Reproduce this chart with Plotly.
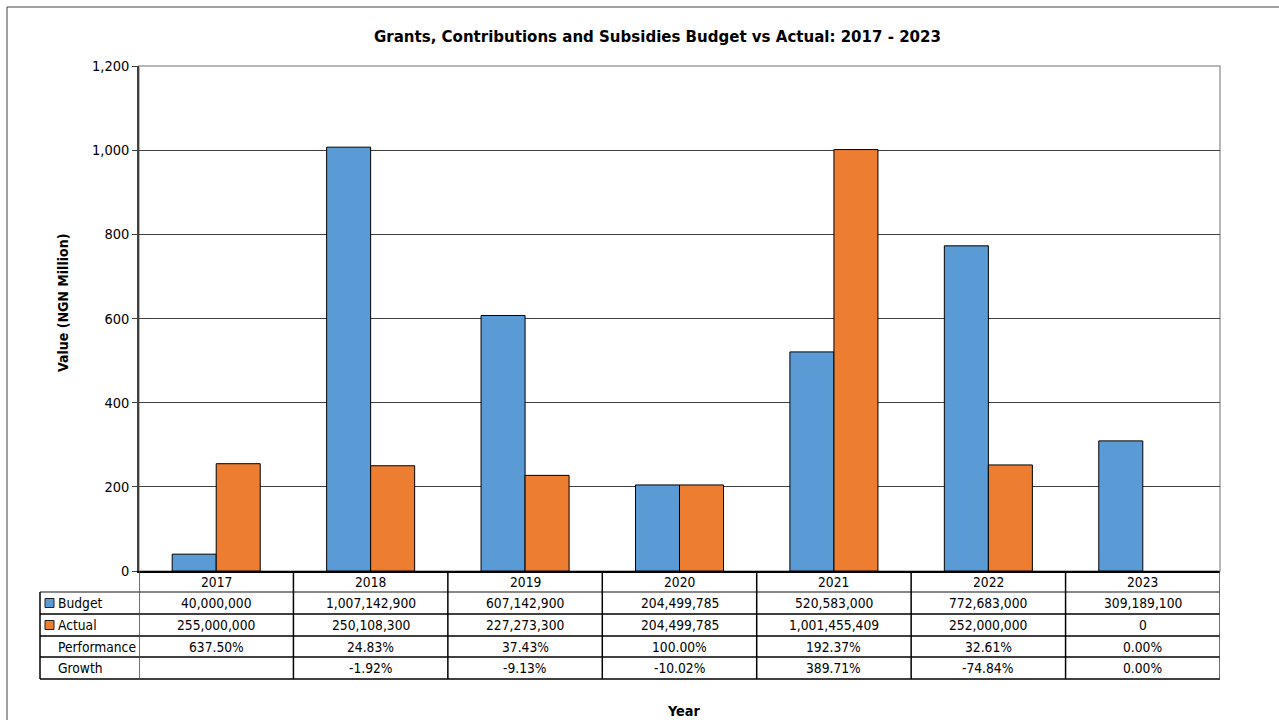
import plotly.graph_objects as go

# Annual figures (NGN Million)
years = ["2017", "2018", "2019", "2020", "2021", "2022", "2023"]
budget = [40.0, 1007.1429, 607.1429, 204.499785, 520.583, 772.683, 309.1891]
actual = [255.0, 250.1083, 227.2733, 204.499785, 1001.455409, 252.0, 0.0]

# Table rows shown below the chart
budget_labels = ["40,000,000", "1,007,142,900", "607,142,900", "204,499,785",
                 "520,583,000", "772,683,000", "309,189,100"]
actual_labels = ["255,000,000", "250,108,300", "227,273,300", "204,499,785",
                 "1,001,455,409", "252,000,000", "0"]
performance = ["637.50%", "24.83%", "37.43%", "100.00%", "192.37%", "32.61%", "0.00%"]
growth = ["", "-1.92%", "-9.13%", "-10.02%", "389.71%", "-74.84%", "0.00%"]

BLUE = "#5B9BD5"
ORANGE = "#ED7D31"
FONT = "DejaVu Sans Condensed, DejaVu Sans, sans-serif"

W, H = 1279, 720
L, R, T, B = 139, 1220, 66, 571  # plot area in pixels


def px(xp):
    return (xp - L) / (R - L)


def py(yp):
    return (B - yp) / (B - T)


def outline_widths(values):
    # zero-height bars get no outline
    return [1 if v else 0 for v in values]


fig = go.Figure()
fig.add_bar(x=years, y=budget, name="Budget",
            marker=dict(color=BLUE, line=dict(color="black", width=outline_widths(budget))))
fig.add_bar(x=years, y=actual, name="Actual",
            marker=dict(color=ORANGE, line=dict(color="black", width=outline_widths(actual))))

shapes = []
annos = []

# outer chart frame
shapes.append(dict(type="rect", xref="paper", yref="paper", x0=px(7), x1=px(1290),
                   y0=py(730), y1=py(7), line=dict(color="#404040", width=1)))
# plot-area frame (top/right)
shapes.append(dict(type="rect", xref="paper", yref="paper", x0=0, x1=1, y0=0, y1=1,
                   line=dict(color="#a0a0a0", width=1.5), layer="below"))

# table rows (pixel boundaries)
row_edges = [571, 592, 614, 636, 657, 679]
for i, ye in enumerate(row_edges[1:]):
    shapes.append(dict(type="line", xref="paper", yref="paper", x0=px(40), x1=1,
                       y0=py(ye), y1=py(ye), line=dict(color="black" if i else "#606060", width=1.5)))
# vertical separators
for k in range(len(years) + 1):
    shapes.append(dict(type="line", xref="x", yref="paper", x0=k - 0.5, x1=k - 0.5,
                       y0=0, y1=py(679), line=dict(color="black" if 0 < k < len(years) else "#404040", width=1.5)))
shapes.append(dict(type="line", xref="paper", yref="paper", x0=px(40), x1=px(40),
                   y0=py(592), y1=py(679), line=dict(color="black", width=1.5)))

# legend keys
for color, yc in [(BLUE, 603), (ORANGE, 625)]:
    shapes.append(dict(type="rect", xref="paper", yref="paper", x0=px(45), x1=px(54),
                       y0=py(yc + 4.5), y1=py(yc - 4.5), fillcolor=color,
                       line=dict(color="#202020", width=1)))

cell_font = dict(family=FONT, size=13.7, color="black")
row_centers = [603, 625, 646.5, 668]
row_names = ["Budget", "Actual", "Performance", "Growth"]
row_values = [budget_labels, actual_labels, performance, growth]

for i, yr in enumerate(years):
    annos.append(dict(x=i, y=py(581.5), xref="x", yref="paper", text=yr, showarrow=False,
                      font=cell_font, xanchor="center", yanchor="middle"))
for name, vals, yc in zip(row_names, row_values, row_centers):
    annos.append(dict(x=px(56), y=py(yc), xref="paper", yref="paper", text=name, showarrow=False,
                      font=cell_font, xanchor="left", yanchor="middle"))
    for i, v in enumerate(vals):
        if not v:
            continue
        annos.append(dict(x=i, y=py(yc), xref="x", yref="paper", text=v, showarrow=False,
                          font=cell_font, xanchor="center", yanchor="middle"))

# titles
annos.append(dict(x=px(657), y=py(36), xref="paper", yref="paper", showarrow=False,
                  text="<b>Grants, Contributions and Subsidies Budget vs Actual: 2017 - 2023</b>",
                  font=dict(family=FONT, size=16.7, color="black"), xanchor="center", yanchor="middle"))
annos.append(dict(x=px(63), y=py(303), xref="paper", yref="paper", showarrow=False, textangle=-90,
                  text="<b>Value (NGN Million)</b>", font=dict(family=FONT, size=14, color="black"),
                  xanchor="center", yanchor="middle"))
annos.append(dict(x=px(683), y=py(711), xref="paper", yref="paper", showarrow=False,
                  text="<b>Year</b>", font=dict(family=FONT, size=14.3, color="black"),
                  xanchor="center", yanchor="middle"))

fig.update_layout(
    width=W, height=H,
    margin=dict(l=L, r=W - R, t=T, b=H - B, pad=0),
    paper_bgcolor="white", plot_bgcolor="white",
    barmode="group", bargap=0.43, bargroupgap=0,
    showlegend=False,
    font=dict(family=FONT, size=14, color="black"),
    shapes=shapes, annotations=annos,
    xaxis=dict(type="category", range=[-0.5, len(years) - 0.5], showticklabels=False, ticks="",
               showline=True, linecolor="black", linewidth=1.5, showgrid=False, fixedrange=True),
    yaxis=dict(range=[0, 1200], dtick=200, tickformat=",", ticks="outside", ticklen=5,
               tickcolor="#404040", showline=True, linecolor="#404040", linewidth=1.5,
               showgrid=True, gridcolor="#404040", gridwidth=1, zeroline=False,
               tickfont=dict(family=FONT, size=14.5), fixedrange=True),
)

fig.write_html("out.html")
